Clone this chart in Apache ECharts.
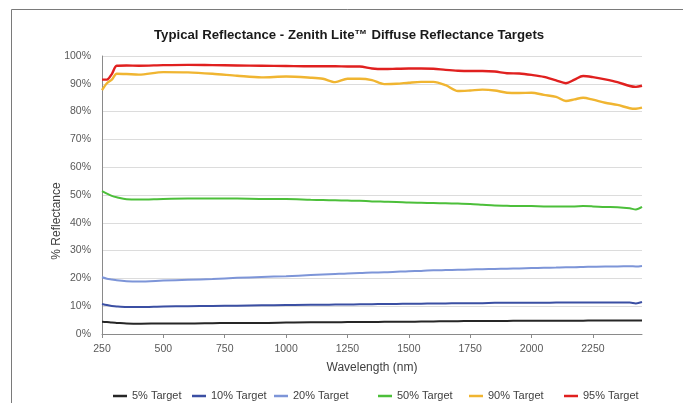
<!DOCTYPE html>
<html>
<head>
<meta charset="utf-8">
<script src="https://cdn.jsdelivr.net/npm/echarts@6/dist/echarts.min.js"></script>
<style>
html,body{margin:0;padding:0;background:#fff;}
#chart{width:683px;height:403px;}
</style>
</head>
<body>
<div id="chart"></div>
<script>
var titleText = 'Typical Reflectance - Zenith Lite\u2122 Diffuse Reflectance Targets';
var xAxisName = 'Wavelength (nm)';
var yAxisName = '% Reflectance';
var seriesNames = ['5% Target', '10% Target', '20% Target', '50% Target', '90% Target', '95% Target'];

var wavelengths = [250, 270, 290, 310, 350, 400, 500, 600, 700, 800, 900, 1000, 1100, 1150, 1200, 1250, 1300, 1350, 1400, 1450, 1500, 1550, 1600, 1650, 1700, 1750, 1800, 1850, 1900, 1950, 2000, 2050, 2100, 2140, 2175, 2210, 2250, 2300, 2350, 2400, 2425, 2450];

var target5 = [4.4, 4.3, 4.1, 4.0, 3.8, 3.7, 3.8, 3.8, 3.9, 4.0, 4.0, 4.1, 4.2, 4.2, 4.2, 4.3, 4.3, 4.3, 4.4, 4.4, 4.4, 4.5, 4.5, 4.6, 4.6, 4.7, 4.7, 4.7, 4.7, 4.8, 4.8, 4.8, 4.8, 4.8, 4.8, 4.8, 4.9, 4.9, 4.9, 4.9, 4.9, 4.9];
var target10 = [10.8, 10.4, 10.1, 9.9, 9.7, 9.7, 9.9, 10.0, 10.1, 10.2, 10.3, 10.4, 10.5, 10.5, 10.6, 10.6, 10.7, 10.7, 10.8, 10.8, 10.9, 10.9, 11.0, 11.0, 11.1, 11.1, 11.1, 11.2, 11.2, 11.2, 11.2, 11.2, 11.3, 11.3, 11.3, 11.3, 11.3, 11.3, 11.3, 11.3, 11.0, 11.5];
var target20 = [20.4, 19.9, 19.6, 19.3, 19.0, 18.9, 19.2, 19.5, 19.8, 20.2, 20.5, 20.8, 21.2, 21.4, 21.6, 21.8, 21.9, 22.1, 22.2, 22.4, 22.6, 22.7, 22.9, 23.0, 23.1, 23.2, 23.3, 23.4, 23.5, 23.6, 23.7, 23.8, 23.9, 24.0, 24.0, 24.1, 24.2, 24.3, 24.3, 24.4, 24.3, 24.5];
var target50 = [51.4, 50.5, 49.7, 49.2, 48.5, 48.4, 48.6, 48.7, 48.7, 48.7, 48.6, 48.6, 48.3, 48.2, 48.1, 48.0, 47.9, 47.7, 47.6, 47.5, 47.3, 47.2, 47.1, 47.0, 46.9, 46.8, 46.5, 46.2, 46.1, 46.0, 46.0, 45.9, 45.9, 45.9, 45.9, 46.0, 45.9, 45.7, 45.6, 45.2, 44.8, 45.7];
var target90 = [87.7, 90.2, 91.5, 93.6, 93.5, 93.3, 94.2, 94.1, 93.6, 92.9, 92.3, 92.6, 92.2, 91.8, 90.6, 91.8, 91.8, 91.3, 89.9, 90.0, 90.4, 90.7, 90.7, 89.5, 87.4, 87.6, 87.9, 87.6, 86.8, 86.7, 86.8, 86.0, 85.3, 83.8, 84.4, 85.0, 84.3, 83.2, 82.4, 81.2, 81.0, 81.4];
var target95 = [91.5, 91.5, 93.5, 96.5, 96.6, 96.5, 96.7, 96.8, 96.7, 96.6, 96.5, 96.4, 96.3, 96.3, 96.3, 96.2, 96.2, 95.5, 95.3, 95.4, 95.5, 95.5, 95.4, 95.0, 94.7, 94.6, 94.6, 94.4, 93.8, 93.7, 93.2, 92.5, 91.2, 90.2, 91.5, 92.8, 92.4, 91.6, 90.6, 89.2, 88.9, 89.3];

var seriesValues = [target5, target10, target20, target50, target90, target95];
var seriesColors = ['#262626', '#3b4fa3', '#7d95d8', '#4cbf3a', '#f0b531', '#e0201f'];
var legendTextLeft = [132, 211, 293, 397, 488, 583];

function pairs(vals) {
  return wavelengths.map(function (w, i) { return [w, vals[i]]; });
}

var chart = echarts.init(document.getElementById('chart'), null, {renderer: 'canvas'});

var legends = seriesNames.map(function (n, i) {
  return {
    data: [n],
    left: legendTextLeft[i] - 19,
    top: 390.5,
    padding: 0,
    icon: 'rect',
    itemWidth: 14,
    itemHeight: 2.5,
    textStyle: {fontFamily: 'Liberation Sans', fontSize: 11, color: '#404040'}
  };
});

var option = {
  backgroundColor: '#ffffff',
  animation: false,
  title: {
    text: titleText,
    left: 154,
    top: 29,
    padding: 0,
    textStyle: {fontFamily: 'Liberation Sans', fontWeight: 'bold', fontSize: 13.2, color: '#1a1a1a'}
  },
  legend: legends,
  grid: {left: 102, right: 41, top: 56, bottom: 69},
  xAxis: {
    type: 'value',
    min: 250,
    max: 2450,
    interval: 250,
    name: xAxisName,
    nameLocation: 'middle',
    nameGap: 28,
    nameTextStyle: {fontFamily: 'Liberation Sans', fontSize: 12, color: '#404040'},
    axisLine: {show: true, lineStyle: {color: '#8a8a8a', width: 1}},
    axisTick: {show: true, length: 4, lineStyle: {color: '#8a8a8a'}},
    axisLabel: {
      showMaxLabel: false, margin: 10, fontFamily: 'Liberation Sans', fontSize: 10.5, color: '#595959',
      formatter: function (v) { return String(v); }
    },
    splitLine: {show: false}
  },
  yAxis: {
    type: 'value',
    min: 0,
    max: 100,
    interval: 10,
    axisLine: {show: true, lineStyle: {color: '#8a8a8a', width: 1}},
    axisTick: {show: false},
    axisLabel: {formatter: '{value}%', margin: 11, fontFamily: 'Liberation Sans', fontSize: 10.5, color: '#595959'},
    splitLine: {show: true, lineStyle: {color: '#dcdcdc', width: 1}}
  },
  graphic: [
    {type: 'rect', shape: {x: 11.5, y: 9.5, width: 700, height: 420}, style: {fill: 'none', stroke: '#7a7a7a', lineWidth: 1}, silent: true, z: -1},
    {type: 'text', x: 57, y: 221, rotation: Math.PI / 2,
     style: {text: yAxisName, fontFamily: 'Liberation Sans', fontSize: 12, fill: '#404040', textAlign: 'center', textVerticalAlign: 'middle'}}
  ],
  series: seriesNames.map(function (n, i) {
    return {
      name: n,
      type: 'line',
      data: pairs(seriesValues[i]),
      showSymbol: false,
      symbol: 'none',
      smooth: 0.3,
      color: seriesColors[i],
      lineStyle: {color: seriesColors[i], width: i >= 4 ? 2.4 : 2}
    };
  })
};
chart.setOption(option);
</script>
</body>
</html>
